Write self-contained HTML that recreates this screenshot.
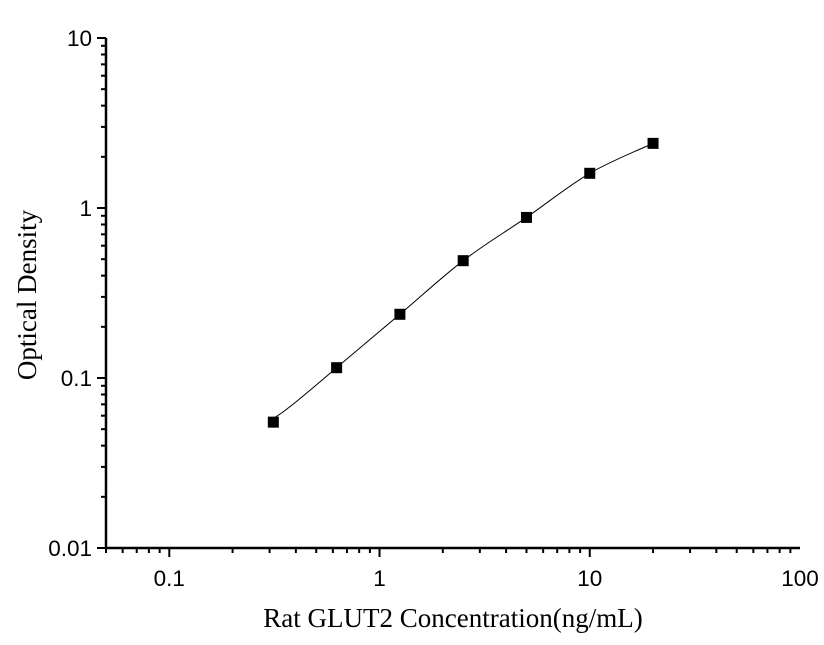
<!DOCTYPE html>
<html><head><meta charset="utf-8"><style>
body{margin:0;background:#fff;width:824px;height:645px;overflow:hidden}
svg{display:block}
.tk{font-family:"Liberation Sans",sans-serif;font-size:22.5px;fill:#000}
.ttl{font-family:"Liberation Serif",serif;font-size:27px;fill:#000}
</style></head><body>
<svg id="chart" width="824" height="645">
<g id="axes"></g>
<g id="series"></g>
<text class="ttl" x="453" y="627" text-anchor="middle">Rat GLUT2 Concentration(ng/mL)</text>
<text class="ttl" transform="translate(36,295) rotate(-90)" text-anchor="middle">Optical Density</text>
</svg>
<script>
const concentrations=[0.3125,0.625,1.25,2.5,5,10,20];
const odValues=[0.055,0.115,0.237,0.49,0.88,1.6,2.4];
const xTickLabels=["0.1","1","10","100"];
const xTickValues=[0.1,1,10,100];
const yTickLabels=["0.01","0.1","1","10"];
const yTickValues=[0.01,0.1,1,10];
const NS="http://www.w3.org/2000/svg";
const X0=106,X1=800,Y0=548,Y1=38;
const xmin=Math.log10(0.05),xmax=2,ymin=-2,ymax=1;
function xs(v){return X0+(Math.log10(v)-xmin)/(xmax-xmin)*(X1-X0);}
function ys(v){return Y0-(Math.log10(v)-ymin)/(ymax-ymin)*(Y0-Y1);}
function mk(t,a,p){const e=document.createElementNS(NS,t);for(const k in a)e.setAttribute(k,a[k]);p.appendChild(e);return e;}
const ax=document.getElementById('axes');
let l=mk('line',{x1:X0,y1:Y0+1,x2:X0,y2:Y1,stroke:'#000','stroke-width':2.5},ax);


l=mk('line',{x1:X0-1,y1:Y0,x2:X1,y2:Y0,stroke:'#000','stroke-width':2.5},ax);


for(let d=-2;d<=1;d++){for(let m=1;m<10;m++){const v=m*Math.pow(10,d);if(v<0.05||v>100)continue;const x=xs(v);
 const t=mk('line',{x1:x,y1:Y0,x2:x,y2:Y0+(m==1?9:5),stroke:'#000','stroke-width':2},ax);
 
 }}
for(let d=-2;d<=0;d++){for(let m=1;m<10;m++){const v=m*Math.pow(10,d);const y=ys(v);
 const t=mk('line',{x1:X0,y1:y,x2:X0-(m==1?9:5),y2:y,stroke:'#000','stroke-width':2},ax);
 
 }}
let t=mk('line',{x1:X0,y1:ys(10),x2:X0-9,y2:ys(10),stroke:'#000','stroke-width':2},ax);


xTickValues.forEach((v,i)=>{const e=mk('text',{x:xs(v),y:Y0+38,'text-anchor':'middle',class:'tk'},ax);e.textContent=xTickLabels[i];
 
 });
yTickValues.forEach((v,i)=>{const e=mk('text',{x:X0-14,y:ys(v)+8,'text-anchor':'end',class:'tk'},ax);e.textContent=yTickLabels[i];
 
 });
const sr=document.getElementById('series');
const P=concentrations.map((c,i)=>[xs(c),ys(odValues[i])]);
let d='M'+P[0][0]+','+(P[0][1]-4);
for(let i=0;i<P.length-1;i++){const p0=P[Math.max(i-1,0)],p1=P[i],p2=P[i+1],p3=P[Math.min(i+2,P.length-1)];
 d+=` C${p1[0]+(p2[0]-p0[0])/6},${p1[1]+(p2[1]-p0[1])/6} ${p2[0]-(p3[0]-p1[0])/6},${p2[1]-(p3[1]-p1[1])/6} ${p2[0]},${p2[1]}`;}
const c=mk('path',{d:d,fill:'none',stroke:'#000','stroke-width':1},sr);


P.forEach(p=>{const r=mk('rect',{x:p[0]-5.5,y:p[1]-5.5,width:11,height:11,fill:'#000'},sr);
 
 });
</script>
</body></html>
